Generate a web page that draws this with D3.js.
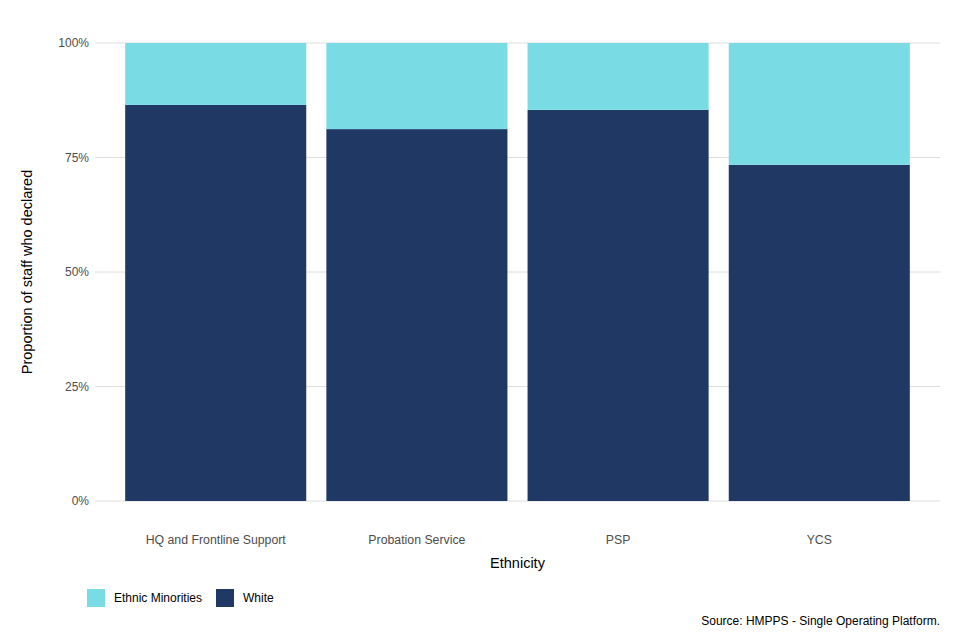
<!DOCTYPE html>
<html>
<head>
<meta charset="utf-8">
<script src="https://cdn.jsdelivr.net/npm/d3@7"></script>
<style>
  body { margin: 0; background: #fff; }
  svg text { font-family: "Liberation Sans", Arial, sans-serif; }
</style>
</head>
<body>
<div id="chart"></div>
<script>
var categories = ["HQ and Frontline Support", "Probation Service", "PSP", "YCS"];
var groups = ["White", "Ethnic Minorities"];
var white = [0.865, 0.812, 0.854, 0.734];
var minorities = [0.135, 0.188, 0.146, 0.266];
var yTicks = [0, 0.25, 0.5, 0.75, 1];

var width = 960, height = 640;
var margin = { top: 43, right: 20, bottom: 139, left: 95 };

var colorMap = {
    "Ethnic Minorities": "#79dce4",
    "White": "#203864"
};

var svg = d3.select("#chart").append("svg")
    .attr("width", width)
    .attr("height", height);

var x = d3.scaleBand()
    .domain(categories)
    .range([margin.left, width - margin.right])
    .paddingInner(0.1)
    .paddingOuter(0.15);

var y = d3.scaleLinear()
    .domain([0, 1])
    .range([height - margin.bottom, margin.top]);

// gridlines
svg.append("g")
    .selectAll("line")
    .data(yTicks)
    .enter().append("line")
    .attr("x1", margin.left)
    .attr("x2", width - margin.right)
    .attr("y1", function (d) { return y(d); })
    .attr("y2", function (d) { return y(d); })
    .style("stroke", "#dedede")
    .style("stroke-width", 1);

// stack data
var rows = categories.map(function (c, i) {
    return { cat: c, "White": white[i], "Ethnic Minorities": minorities[i] };
});
var stacked = d3.stack().keys(groups)(rows);

svg.append("g")
    .selectAll("g")
    .data(stacked)
    .enter().append("g")
    .style("fill", function (d) { return colorMap[d.key]; })
    .selectAll("rect")
    .data(function (d) { return d; })
    .enter().append("rect")
    .attr("x", function (d) { return x(d.data.cat); })
    .attr("width", x.bandwidth())
    .attr("y", function (d) { return y(d[1]); })
    .attr("height", function (d) { return y(d[0]) - y(d[1]); });

// y axis labels
svg.append("g")
    .selectAll("text")
    .data(yTicks)
    .enter().append("text")
    .attr("x", margin.left - 6)
    .attr("y", function (d) { return y(d); })
    .attr("dy", "0.35em")
    .attr("text-anchor", "end")
    .style("font-size", "12px")
    .style("fill", "#4d4d4d")
    .text(function (d) { return d3.format(".0%")(d); });

// x axis labels
svg.append("g")
    .selectAll("text")
    .data(categories)
    .enter().append("text")
    .attr("x", function (d) { return x(d) + x.bandwidth() / 2; })
    .attr("y", 544)
    .attr("text-anchor", "middle")
    .style("font-size", "12.3px")
    .style("fill", "#4d4d4d")
    .text(function (d) { return d; });

// axis titles
svg.append("text")
    .attr("x", (margin.left + width - margin.right) / 2)
    .attr("y", 568)
    .attr("text-anchor", "middle")
    .style("font-size", "14.5px")
    .style("fill", "#000")
    .text("Ethnicity");

svg.append("text")
    .attr("transform", "translate(32," + ((margin.top + height - margin.bottom) / 2) + ") rotate(-90)")
    .attr("text-anchor", "middle")
    .style("font-size", "14.5px")
    .style("fill", "#000")
    .text("Proportion of staff who declared");

// legend
var legendItems = ["Ethnic Minorities", "White"];
var legendX = [87, 216];
var legend = svg.append("g")
    .selectAll("g")
    .data(legendItems)
    .enter().append("g")
    .attr("transform", function (d, i) { return "translate(" + legendX[i] + ",589)"; });
legend.append("rect")
    .attr("width", 18)
    .attr("height", 18)
    .style("fill", function (d) { return colorMap[d]; });
legend.append("text")
    .attr("x", 27)
    .attr("y", 9)
    .attr("dy", "0.35em")
    .style("font-size", "12px")
    .style("fill", "#000")
    .text(function (d) { return d; });

// caption
svg.append("text")
    .attr("x", width - margin.right)
    .attr("y", 625)
    .attr("text-anchor", "end")
    .style("font-size", "12px")
    .style("fill", "#000")
    .text("Source: HMPPS - Single Operating Platform.");
</script>
</body>
</html>
